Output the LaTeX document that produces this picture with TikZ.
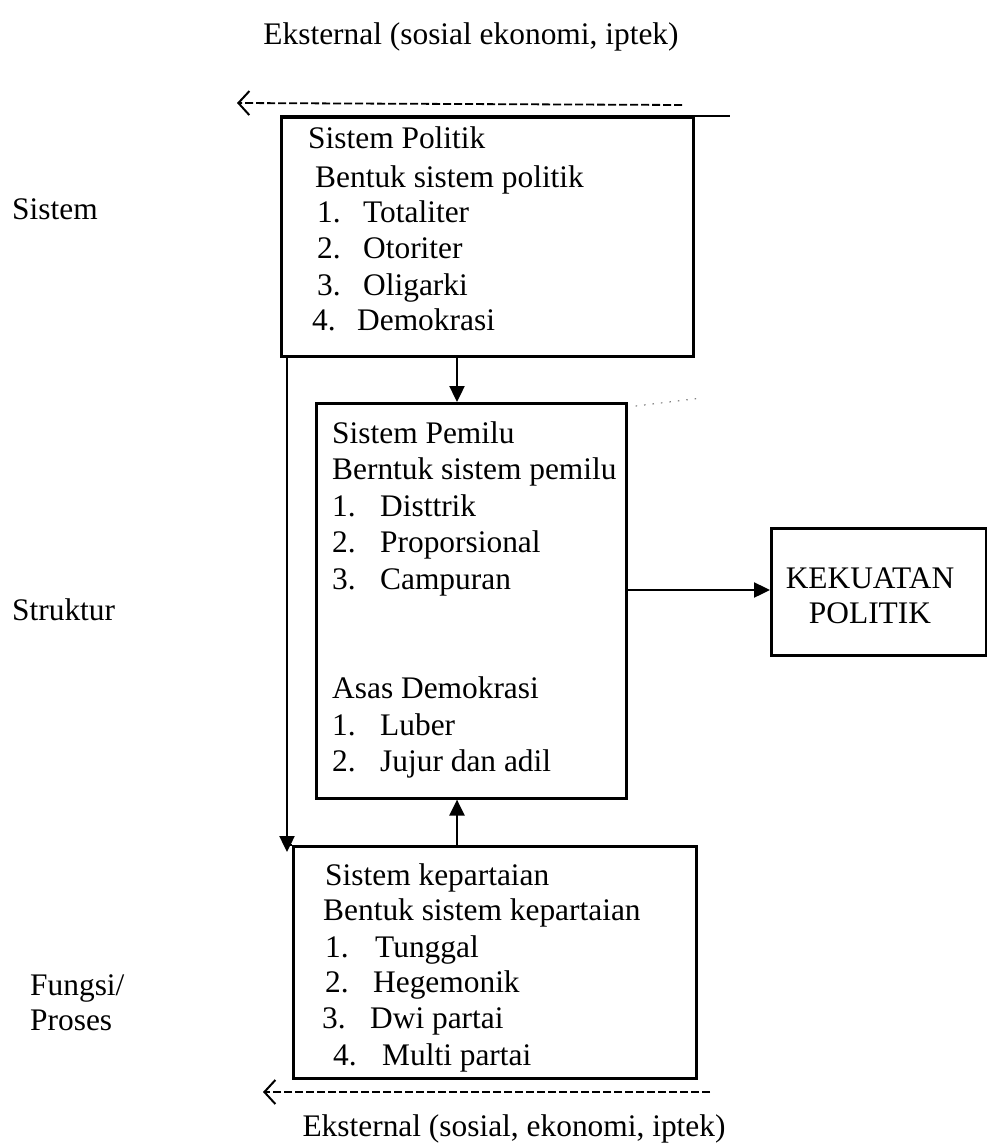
\documentclass[tikz,border=0pt]{standalone}
\usepackage{fontspec}
\setmainfont{Liberation Serif}
\usetikzlibrary{arrows.meta,calc}
\newcommand{\bigfs}{\fontsize{31.4}{36}\selectfont}
\tikzset{
  txt/.style={anchor=base west, inner sep=0pt, font=\bigfs},
  ctxt/.style={anchor=base, inner sep=0pt, font=\bigfs},
  boxn/.style={draw, line width=2.6pt, inner sep=0pt, anchor=north west},
  arr/.style={line width=2.4pt, -{Triangle[length=16pt,width=15pt]}},
  ext/.style={line width=1.8pt, dash pattern=on 8pt off 3pt,
    -{Straight Barb[length=11pt,width=24pt,line width=2pt]}},
  thin/.style={line width=2.6pt},
  faint/.style={line width=1.2pt, dash pattern=on 1.5pt off 7pt, gray}
}
\begin{document}
\begin{tikzpicture}[x=1pt,y=-1pt]
\path[use as bounding box] (0,0) rectangle (987,1145);

% boxes
\node[boxn, minimum width=412pt, minimum height=239pt] (sp) at (280,116) {};
\node[boxn, minimum width=310pt, minimum height=395pt] (mp) at (315,402) {};
\node[boxn, minimum width=403pt, minimum height=232pt] (kp) at (292,845) {};
\node[boxn, minimum width=215pt, minimum height=127pt] (kek) at (770,527) {};

% titles
\node[ctxt] (ext1) at (471,45) {Eksternal (sosial ekonomi, iptek)};
\node[ctxt] (ext2) at (514,1136) {Eksternal (sosial, ekonomi, iptek)};

% left labels
\node[txt] (lsis) at (12,219) {Sistem};
\node[txt] (lstr) at (12,620) {Struktur};
\node[txt] (lfun) at (30,995) {Fungsi/};
\node[txt] (lpro) at (30,1030) {Proses};

% Sistem Politik
\node[txt] (sp1) at (308,148) {Sistem Politik};
\node[txt] (sp2) at (315,187) {Bentuk sistem politik};
\node[txt] (sp3) at (317,222) {\makebox[46pt][l]{1.}Totaliter};
\node[txt] (sp4) at (317,258) {\makebox[46pt][l]{2.}Otoriter};
\node[txt] (sp5) at (317,295) {\makebox[46pt][l]{3.}Oligarki};
\node[txt] (sp6) at (312,330) {\makebox[45pt][l]{4.}Demokrasi};

% Sistem Pemilu
\node[txt] (mp1) at (332,443) {Sistem Pemilu};
\node[txt] (mp2) at (332,479.5) {Berntuk sistem pemilu};
\node[txt] (mp3) at (332,516) {\makebox[48pt][l]{1.}Disttrik};
\node[txt] (mp4) at (332,552.5) {\makebox[48pt][l]{2.}Proporsional};
\node[txt] (mp5) at (332,589) {\makebox[48pt][l]{3.}Campuran};
\node[txt] (mp6) at (332,698.5) {Asas Demokrasi};
\node[txt] (mp7) at (332,735) {\makebox[48pt][l]{1.}Luber};
\node[txt] (mp8) at (332,771.5) {\makebox[48pt][l]{2.}Jujur dan adil};

% Sistem kepartaian
\node[txt] (kp1) at (325,885) {Sistem kepartaian};
\node[txt] (kp2) at (323,920) {Bentuk sistem kepartaian};
\node[txt] (kp3) at (325,957) {\makebox[50pt][l]{1.}Tunggal};
\node[txt] (kp4) at (325,992) {\makebox[48pt][l]{2.}Hegemonik};
\node[txt] (kp5) at (322,1028) {\makebox[48pt][l]{3.}Dwi partai};
\node[txt] (kp6) at (333,1065) {\makebox[49pt][l]{4.}Multi partai};

% Kekuatan politik
\node[anchor=base, inner sep=0pt, font=\bigfs] (kek1) at (870,588) {KEKUATAN};
\node[anchor=base, inner sep=0pt, font=\bigfs] (kek2) at (870,623) {POLITIK};

% helper coordinates
\coordinate (ax) at (457,0);
\coordinate (lx) at (287,0);
\coordinate (ay) at (0,590);
\coordinate (topR) at (730,116);
\coordinate (t1a) at (682,105);
\coordinate (t1b) at (237,103);
\coordinate (t2a) at (710,1092);
\coordinate (t2b) at (263,1092);
\coordinate (dotE) at (702,398);

% extended top line of Sistem Politik box
\draw[thin] (sp.north west) -- (topR);

% external dashed arrows
\draw[ext] (t1a) -- (t1b);
\draw[ext] (t2a) -- (t2b);

% connectors
\draw[arr] (sp.south -| ax) -- (mp.north -| ax);
\draw[arr] (kp.north -| ax) -- (mp.south -| ax);
\draw[arr] (sp.south -| lx) -- ([yshift=-7pt]kp.north -| lx);
\draw[arr] (mp.east |- ay) -- (kek.west |- ay);
\draw[thin] (kp.north -| lx) -- (kp.north west);
\draw[faint] ([xshift=8pt,yshift=-4pt]mp.north east) -- (dotE);
\end{tikzpicture}
\end{document}
